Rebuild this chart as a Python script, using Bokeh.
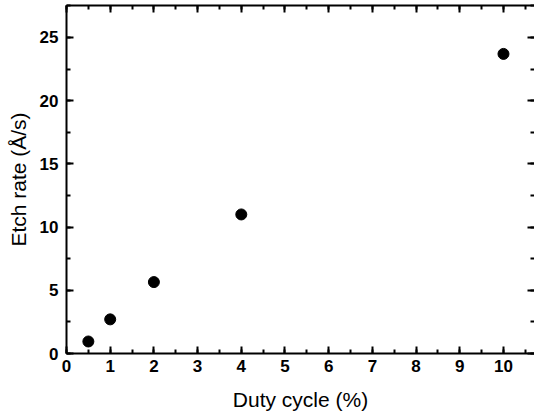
from bokeh.plotting import figure
from bokeh.models import LinearAxis, Range1d, SingleIntervalTicker, CustomJSTickFormatter
from bokeh.embed import file_html
from bokeh.resources import INLINE

duty_cycle = [0.5, 1, 2, 4, 10]
etch_rate = [0.95, 2.7, 5.65, 11.0, 23.7]

p = figure(width=534, height=419, output_backend="svg", toolbar_location=None,
           x_range=Range1d(0, 10.71), y_range=Range1d(0, 27.53),
           min_border_left=66, min_border_bottom=66, min_border_top=5, min_border_right=0,
           x_axis_label="Duty cycle (%)", y_axis_label="Etch rate (Å/s)")
p.grid.visible = False
p.outline_line_color = None
p.background_fill_color = "white"
p.border_fill_color = "white"

p.scatter(duty_cycle, etch_rate, size=11, color="black")

xt = SingleIntervalTicker(interval=1, num_minor_ticks=2)
yt = SingleIntervalTicker(interval=5, num_minor_ticks=2)

def style(ax, labels=True):
    ax.axis_line_width = 2
    ax.axis_line_color = "black"
    ax.major_tick_line_width = 2
    ax.minor_tick_line_width = 2
    ax.major_tick_in = 7
    ax.major_tick_out = 0
    ax.minor_tick_in = 4
    ax.minor_tick_out = 0
    if labels:
        ax.major_label_text_font = "Liberation Sans"
        ax.major_label_text_font_style = "bold"
        ax.major_label_text_font_size = "17px"
        ax.major_label_text_color = "black"
        ax.axis_label_text_font = "Liberation Sans"
        ax.axis_label_text_font_style = "normal"
        ax.axis_label_text_font_size = "21px"
        ax.axis_label_text_color = "black"
    else:
        ax.formatter = CustomJSTickFormatter(code="return '';")
        ax.major_label_text_font_size = "0px"
        ax.major_label_standoff = 0
        ax.axis_label = None
        ax.axis_label_standoff = 0

p.xaxis.ticker = xt
p.yaxis.ticker = yt
for ax in p.xaxis:
    style(ax)
    ax.major_label_standoff = 6
    ax.axis_label_standoff = 13
for ax in p.yaxis:
    style(ax)
    ax.major_label_standoff = 8
    ax.axis_label_standoff = 7

top = LinearAxis(ticker=SingleIntervalTicker(interval=1, num_minor_ticks=2))
style(top, labels=False)
p.add_layout(top, "above")
right = LinearAxis(ticker=SingleIntervalTicker(interval=5, num_minor_ticks=2))
style(right, labels=False)
right.axis_line_color = None
p.add_layout(right, "right")

open("out.html", "w").write(file_html(p, INLINE))
